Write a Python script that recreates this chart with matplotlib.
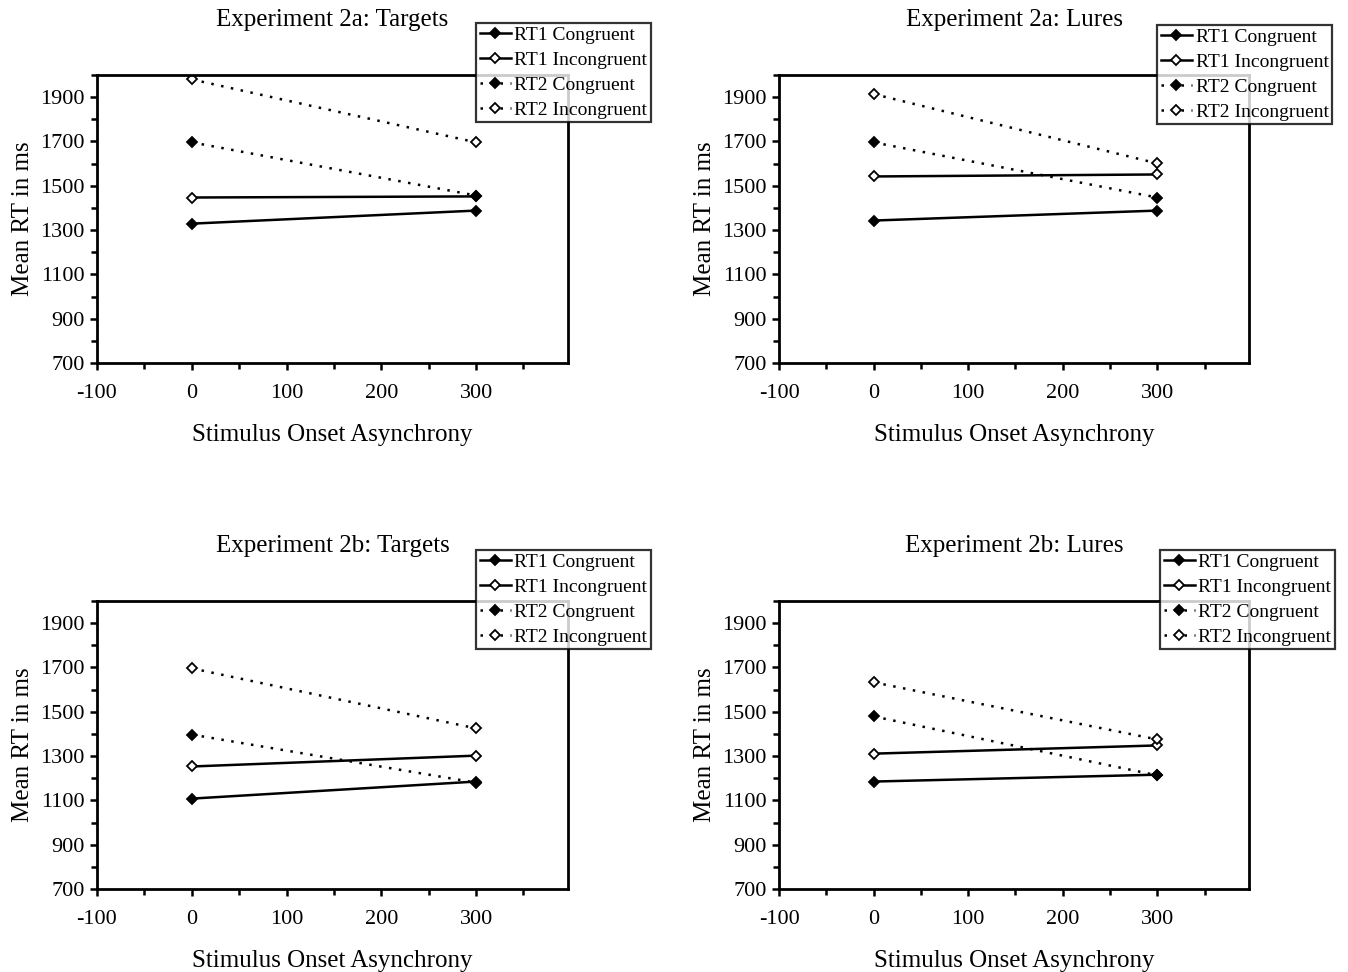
import matplotlib
matplotlib.use("Agg")
import matplotlib.pyplot as plt
from matplotlib.ticker import MultipleLocator

plt.rcParams['font.family'] = ['Liberation Serif', 'DejaVu Serif']
plt.rcParams['axes.unicode_minus'] = False

soa = [0, 300]
titles = ["Experiment 2a: Targets", "Experiment 2a: Lures",
          "Experiment 2b: Targets", "Experiment 2b: Lures"]
series_names = ["RT1 Congruent", "RT1 Incongruent", "RT2 Congruent", "RT2 Incongruent"]

exp2a_targets_rt1_cong = [1329, 1388]
exp2a_targets_rt1_incong = [1447, 1452]
exp2a_targets_rt2_cong = [1696, 1456]
exp2a_targets_rt2_incong = [1980, 1696]

exp2a_lures_rt1_cong = [1343, 1388]
exp2a_lures_rt1_incong = [1542, 1551]
exp2a_lures_rt2_cong = [1696, 1447]
exp2a_lures_rt2_incong = [1914, 1601]

exp2b_targets_rt1_cong = [1108, 1185]
exp2b_targets_rt1_incong = [1253, 1302]
exp2b_targets_rt2_cong = [1397, 1180]
exp2b_targets_rt2_incong = [1696, 1425]

exp2b_lures_rt1_cong = [1185, 1216]
exp2b_lures_rt1_incong = [1311, 1348]
exp2b_lures_rt2_cong = [1479, 1213]
exp2b_lures_rt2_incong = [1633, 1375]

panels = [
    [exp2a_targets_rt1_cong, exp2a_targets_rt1_incong, exp2a_targets_rt2_cong, exp2a_targets_rt2_incong],
    [exp2a_lures_rt1_cong, exp2a_lures_rt1_incong, exp2a_lures_rt2_cong, exp2a_lures_rt2_incong],
    [exp2b_targets_rt1_cong, exp2b_targets_rt1_incong, exp2b_targets_rt2_cong, exp2b_targets_rt2_incong],
    [exp2b_lures_rt1_cong, exp2b_lures_rt1_incong, exp2b_lures_rt2_cong, exp2b_lures_rt2_incong],
]

dotted = (0, (1, 3))
styles = [
    dict(linestyle='-', marker='D', markerfacecolor='black'),
    dict(linestyle='-', marker='D', markerfacecolor='white'),
    dict(linestyle=dotted, marker='D', markerfacecolor='black'),
    dict(linestyle=dotted, marker='D', markerfacecolor='white'),
]

W, H = 1348, 972
fig = plt.figure(figsize=(W / 100, H / 100), dpi=100)

axes_px = [(97, 75, 568, 363), (779, 75, 1249, 363),
           (97, 601, 568, 889), (779, 601, 1249, 889)]
legend_px = [(476, 23), (1157, 25), (476, 550), (1160, 550)]

for i in range(4):
    l, t, r, b = axes_px[i]
    ax = fig.add_axes([l / W, 1 - b / H, (r - l) / W, (b - t) / H])
    for data, st, name in zip(panels[i], styles, series_names):
        ax.plot(soa, data, color='black', linewidth=1.8, markersize=5,
                markeredgecolor='black', markeredgewidth=1.3, label=name, **st)
    ax.set_xlim(-100, 397)
    ax.set_ylim(700, 2000)
    ax.set_xticks([-100, 0, 100, 200, 300])
    ax.set_yticks([700, 900, 1100, 1300, 1500, 1700, 1900])
    ax.xaxis.set_minor_locator(MultipleLocator(50))
    ax.yaxis.set_minor_locator(MultipleLocator(100))
    ax.tick_params(which='both', direction='out', width=1.8, labelsize=16)
    ax.tick_params(which='major', length=5)
    ax.tick_params(which='minor', length=4)
    ax.tick_params(axis='x', pad=10)
    ax.tick_params(axis='y', pad=4)
    for s in ax.spines.values():
        s.set_linewidth(2.0)
    ax.set_title(titles[i], fontsize=18, pad=35)
    ax.set_xlabel("Stimulus Onset Asynchrony", fontsize=18, labelpad=15)
    ax.set_ylabel("Mean RT in ms", fontsize=18, labelpad=4)
    lx, ly = legend_px[i]
    leg = ax.legend(loc='upper left', bbox_to_anchor=(lx / W, 1 - ly / H),
                    bbox_transform=fig.transFigure, fontsize=14, frameon=True,
                    fancybox=False, handlelength=1.6, handletextpad=0.2,
                    labelspacing=0.37, borderpad=0.18, borderaxespad=0)
    leg.get_frame().set_edgecolor('black')
    leg.get_frame().set_linewidth(1.6)
    leg.set_zorder(10)

fig.savefig("out.png", dpi=100)
